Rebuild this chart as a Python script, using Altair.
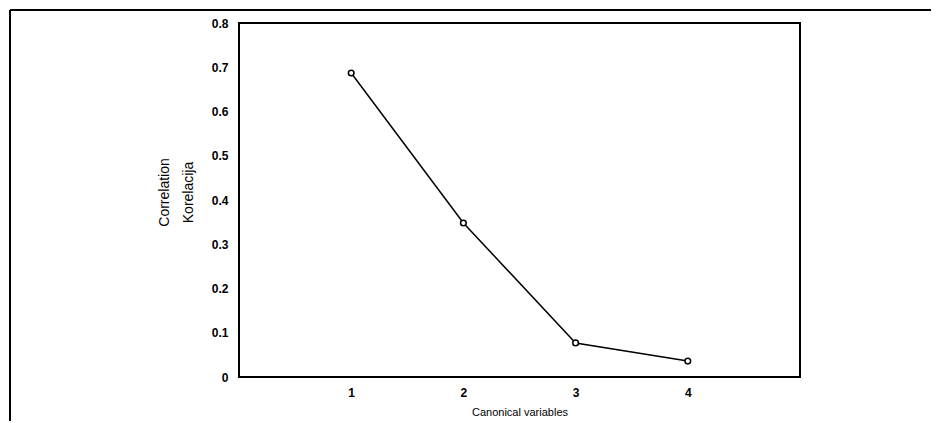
import altair as alt
import pandas as pd

variables = [1, 2, 3, 4]
correlation = [0.687, 0.348, 0.077, 0.036]
x_ticks = [1, 2, 3, 4]
y_ticks = [0, 0.1, 0.2, 0.3, 0.4, 0.5, 0.6, 0.7, 0.8]

df = pd.DataFrame({"var": variables, "corr": correlation})

x_enc = alt.X(
    "var:Q",
    scale=alt.Scale(domain=[0, 5], nice=False, zero=False),
    axis=alt.Axis(
        values=x_ticks, format="d", title="Canonical variables",
        ticks=False, grid=False, domain=False,
        labelFontSize=12, labelFontWeight="bold", labelPadding=10,
        titleFontSize=11, titleFontWeight="normal", titlePadding=8,
        labelFont="Liberation Sans", titleFont="Liberation Sans",
        labelColor="black", titleColor="black",
    ),
)
y_enc = alt.Y(
    "corr:Q",
    scale=alt.Scale(domain=[0, 0.8], nice=False),
    axis=alt.Axis(
        values=y_ticks, format=".1~f", title=["Correlation", "Korelacija"],
        ticks=False, grid=False, domain=False,
        labelFontSize=12, labelFontWeight="bold", labelPadding=11,
        titleFontSize=14, titleFontWeight="normal",
        titleAngle=-90, titleAlign="center", titleBaseline="alphabetic",
        titleX=-71, titleY=169, titleLineHeight=24,
        labelFont="Liberation Sans", titleFont="Liberation Sans",
        labelColor="black", titleColor="black",
    ),
)

frame = alt.Chart(df).mark_rect(fill=None, stroke="black", strokeWidth=2, clip=False).encode(
    x=alt.value(0), x2=alt.value(561), y=alt.value(0), y2=alt.value(354)
)
line = alt.Chart(df).mark_line(color="black", strokeWidth=1.5).encode(x=x_enc, y=y_enc)
pts = alt.Chart(df).mark_point(
    shape="circle", filled=True, fill="white", stroke="black", strokeWidth=1.5,
    size=32, opacity=1,
).encode(x="var:Q", y="corr:Q")

top_rule = alt.Chart(df).mark_rule(color="black", strokeWidth=2, clip=False).encode(
    x=alt.value(-229), x2=alt.value(700), y=alt.value(-13)
)
left_rule = alt.Chart(df).mark_rule(color="black", strokeWidth=2, clip=False).encode(
    x=alt.value(-229), y=alt.value(-13), y2=alt.value(400)
)

chart = (
    alt.layer(line, frame, pts, top_rule, left_rule)
    .properties(
        width=561, height=354, autosize="none",
        padding={"left": 231, "top": 15, "right": 131, "bottom": 44},
    )
    .configure_view(stroke=None)
    .configure(background="white")
)

chart.save("out.html", embed_options={"renderer": "svg", "actions": False})
